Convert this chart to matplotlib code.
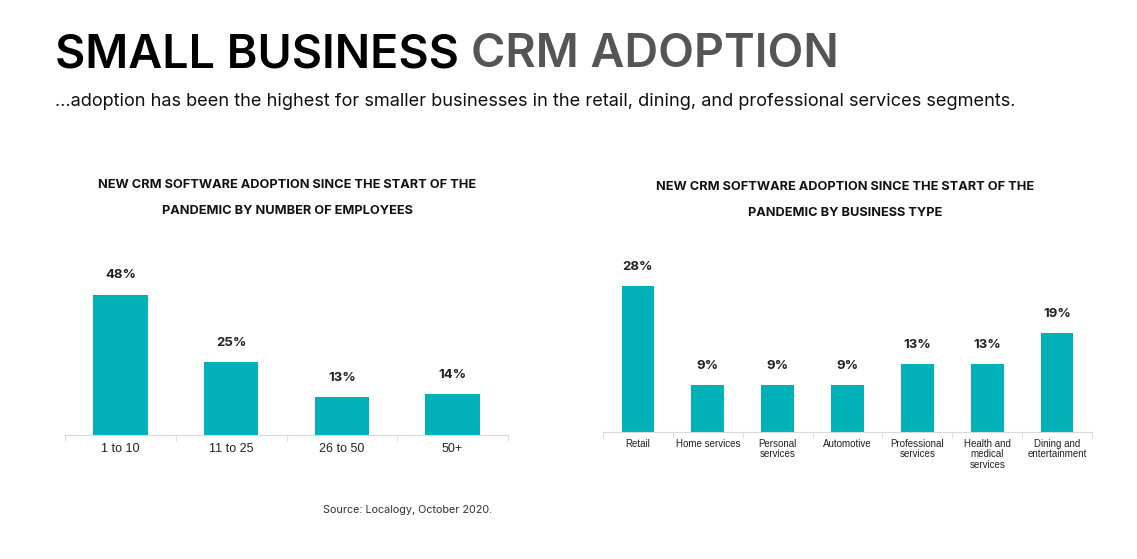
import matplotlib
matplotlib.use("Agg")
import matplotlib.pyplot as plt
import numpy as np

# data
emp_labels = ["1 to 10", "11 to 25", "26 to 50", "50+"]
emp_values = [48, 25, 13, 14]

type_labels = ["Retail", "Home services", "Personal\nservices", "Automotive",
               "Professional\nservices", "Health and\nmedical\nservices",
               "Dining and\nentertainment"]
type_values = [28, 9, 9, 9, 13, 13, 19]

TEAL = "#00b2b8"
HEAD_FONT = "Inter"
TICK_FONT = "Liberation Sans"

W, H = 1137, 559
fig = plt.figure(figsize=(W / 100, H / 100), dpi=100)


def px(x, y):
    # pixel coords (top-left origin) -> figure fraction
    return x / W, 1 - y / H


def bar_panel(rect, labels, values, width, ymax, tick_size, label_pad):
    ax = fig.add_axes(rect)
    x = np.arange(len(labels))
    bars = ax.bar(x, values, width=width, color=TEAL, zorder=2)
    ax.set_xlim(-0.5, len(labels) - 0.5)
    ax.set_ylim(0, ymax)
    for s in ["top", "right", "left"]:
        ax.spines[s].set_visible(False)
    ax.spines["bottom"].set_color("#d9d9d9")
    ax.set_yticks([])
    ax.set_xticks(x)
    ax.set_xticklabels(labels, fontsize=tick_size, family=TICK_FONT,
                       color="#222222", linespacing=1.05, va="top")
    ax.tick_params(axis="x", which="major", length=0, pad=label_pad)
    ax.set_xticks(np.arange(len(labels) + 1) - 0.5, minor=True)
    ax.tick_params(axis="x", which="minor", length=4, color="#d9d9d9")
    for b, v in zip(bars, values):
        ax.annotate(f"{v}%", (b.get_x() + b.get_width() / 2, v),
                    xytext=(0, 14), textcoords="offset points",
                    ha="center", va="center", fontsize=9.5,
                    fontweight="bold", family=HEAD_FONT, color="#222222")
    return ax


# left panel: axis 65..508 px, baseline at 435 px, 2.92 px per %
l, b = px(65, 435)
bar_panel([l, b, 443 / W, 185 / H], emp_labels, emp_values,
          0.49, 185 / 2.92, 9, 6)

# right panel: axis 603..1092 px, baseline at 432 px, 5.21 px per %
l, b = px(603, 432)
bar_panel([l, b, 489 / W, 182 / H], type_labels, type_values,
          0.47, 182 / 5.21, 7, 5)

# panel titles
for cx, y0, txt in [
    (287, 185, ["NEW CRM SOFTWARE ADOPTION SINCE THE START OF THE",
                "PANDEMIC BY NUMBER OF EMPLOYEES"]),
    (845, 187, ["NEW CRM SOFTWARE ADOPTION SINCE THE START OF THE",
                "PANDEMIC BY BUSINESS TYPE"]),
]:
    for i, line in enumerate(txt):
        fig.text(*px(cx, y0 + 26 * i), line, ha="center", va="center",
                 fontsize=9.2, fontweight="bold", family=HEAD_FONT,
                 color="#111111")

# main title in two colours
t1 = fig.text(*px(55, 55), "SMALL BUSINESS ", ha="left", va="center",
              fontsize=33.6, fontweight="semibold", family=HEAD_FONT,
              color="#000000")
fig.canvas.draw()
bb = t1.get_window_extent()
fig.text(bb.x1 / W, 1 - 55 / H, "CRM ADOPTION", ha="left", va="center",
         fontsize=33.6, fontweight="semibold", family=HEAD_FONT,
         color="#555555")

fig.text(*px(55, 102),
         "\u2026adoption has been the highest for smaller businesses in the "
         "retail, dining, and professional services segments.",
         ha="left", va="center", fontsize=13.1, family=HEAD_FONT,
         color="#111111")

fig.text(*px(408, 510), "Source: Localogy, October 2020.", ha="center",
         va="center", fontsize=7.8, family=HEAD_FONT, color="#333333")

fig.savefig("out.png", dpi=100, facecolor="white")
